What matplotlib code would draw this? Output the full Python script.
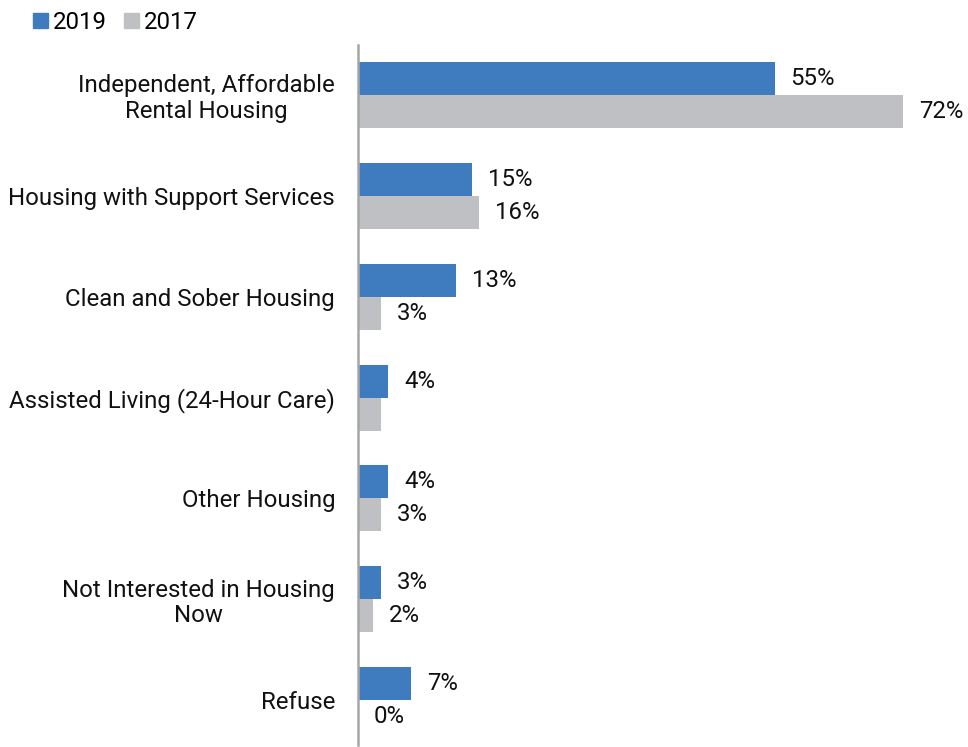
import matplotlib
matplotlib.use("Agg")
import matplotlib.pyplot as plt
from matplotlib.patches import Patch

categories = ["Independent, Affordable\nRental Housing", "Housing with Support Services",
              "Clean and Sober Housing", "Assisted Living (24-Hour Care)", "Other Housing",
              "Not Interested in Housing\nNow", "Refuse"]
v2019 = [55, 15, 13, 4, 4, 3, 7]
v2017 = [72, 16, 3, 3, 3, 2, 0]
lab2019 = ["55%", "15%", "13%", "4%", "4%", "3%", "7%"]
lab2017 = ["72%", "16%", "3%", "", "3%", "2%", "0%"]

plt.rcParams['font.family'] = ['Roboto', 'DejaVu Sans']
C19 = "#3f7cbf"
C17 = "#bfc0c4"
fs = 17.3

fig = plt.figure(figsize=(9.68, 7.47), dpi=100)
ax = fig.add_axes([358/968, 2/747, (964-358)/968, 700/747])
h = 0.327
ys = list(range(len(categories)))
ax.barh([y - h/2 for y in ys], v2019, height=h, color=C19)
ax.barh([y + h/2 for y in ys], v2017, height=h, color=C17)
off = 2.1
for y, v, t in zip(ys, v2019, lab2019):
    ax.text(v + off, y - h/2, t, va='center', ha='left', fontsize=fs, color='#111111')
for y, v, t in zip(ys, v2017, lab2017):
    ax.text(v + off, y + h/2, t, va='center', ha='left', fontsize=fs, color='#111111')
ax.set_xlim(0, 80)
ax.set_ylim(6.445, -0.495)
ax.set_yticks(ys)
ax.set_yticklabels(categories, fontsize=fs, multialignment='center', color='#111111',
                   linespacing=1.15)
ax.tick_params(axis='y', length=0, pad=16.5)
ax.set_xticks([])
for s in ['top', 'right', 'bottom']:
    ax.spines[s].set_visible(False)
ax.spines['left'].set_color('#a6a6a6')
ax.spines['left'].set_linewidth(1.8)

fig.legend(handles=[Patch(color=C19, label='2019'), Patch(color=C17, label='2017')],
           loc='upper left', bbox_to_anchor=(16/968, 1 + 6/747), ncol=2, frameon=False,
           fontsize=fs, handlelength=0.62, handleheight=0.62, handletextpad=0.22,
           columnspacing=0.7, borderpad=0.2)
fig.savefig("out.png", dpi=100)
